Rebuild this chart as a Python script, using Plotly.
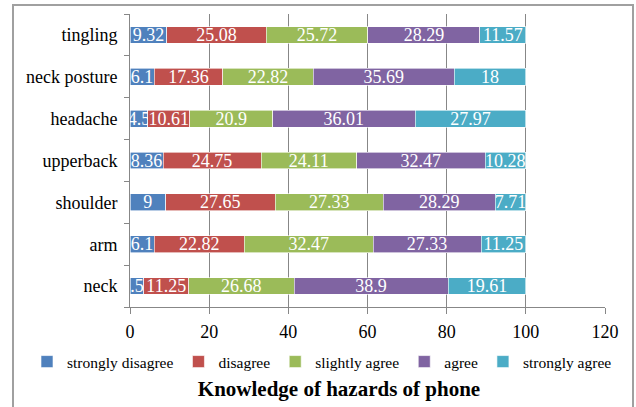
import plotly.graph_objects as go

categories = ["neck", "arm", "shoulder", "upperback", "headache", "neck posture", "tingling"]
series_names = ["strongly disagree", "disagree", "slightly agree", "agree", "strongly agree"]
strongly_disagree = [3.53, 6.1, 9, 8.36, 4.5, 6.1, 9.32]
disagree = [11.25, 22.82, 27.65, 24.75, 10.61, 17.36, 25.08]
slightly_agree = [26.68, 32.47, 27.33, 24.11, 20.9, 22.82, 25.72]
agree = [38.9, 27.33, 28.29, 32.47, 36.01, 35.69, 28.29]
strongly_agree = [19.61, 11.25, 7.71, 10.28, 27.97, 18, 11.57]
x_ticks = [0, 20, 40, 60, 80, 100, 120]
title_text = "Knowledge of hazards of phone"

colors = ["#4F81BD", "#C0504D", "#9BBB59", "#8064A2", "#4BACC6"]
series = [strongly_disagree, disagree, slightly_agree, agree, strongly_agree]

FONT = "Liberation Serif"
GRID = "#878787"

fig = go.Figure()
for name, vals, col in zip(series_names, series, colors):
    fig.add_trace(go.Bar(
        y=categories, x=vals, name=name, orientation="h",
        marker=dict(color=col, line=dict(color="white", width=0.6)),
        text=[str(v) for v in vals], textposition="inside", textangle=0,
        insidetextanchor="middle", constraintext="none",
        textfont=dict(color="white", size=18, family=FONT),
        cliponaxis=True,
    ))

fig.update_layout(
    barmode="stack", bargap=0.6,
    width=636, height=407,
    margin=dict(l=130, r=31, t=14, b=100, autoexpand=False),
    plot_bgcolor="white", paper_bgcolor="white",
    font=dict(family=FONT, size=18, color="black"),
    uniformtext=dict(minsize=18, mode="show"),
    showlegend=True,
    legend=dict(orientation="h", x=(27 - 130) / 475, xanchor="left",
                y=(307 - 362) / 293, yanchor="middle",
                font=dict(size=15.5, family=FONT), itemwidth=30, traceorder="normal",
                tracegroupgap=0, itemclick=False, bgcolor="rgba(0,0,0,0)"),
    title=dict(text="<b>" + title_text + "</b>", xref="container", yref="container",
               x=339 / 636, xanchor="center", y=1 - 389 / 407, yanchor="middle",
               font=dict(size=21, family=FONT, color="black")),
    xaxis=dict(range=[0, 120], tickvals=x_ticks, showgrid=True, gridcolor=GRID, gridwidth=1,
               showline=True, linecolor=GRID, linewidth=1, ticks="outside", ticklen=6,
               tickcolor=GRID, zeroline=False, tickfont=dict(size=18, family=FONT),
               ticklabelstandoff=2),
    yaxis=dict(categoryorder="array", categoryarray=categories, showline=True, linecolor=GRID,
               linewidth=1, ticks="outside", ticklen=5, tickcolor=GRID, tickson="boundaries",
               showgrid=False, tickfont=dict(size=18, family=FONT), ticklabelstandoff=8),
    shapes=[dict(type="rect", xref="paper", yref="paper",
                 x0=(13 - 130) / 475, x1=(633 - 130) / 475,
                 y0=(307 - 420) / 293, y1=(307 - 5) / 293,
                 line=dict(color="#A0A0A0", width=2), fillcolor="rgba(0,0,0,0)", layer="below")],
)

fig.write_html("out.html", config={"displayModeBar": False},
               post_script="document.body.style.margin='0';document.body.style.overflow='hidden';")
